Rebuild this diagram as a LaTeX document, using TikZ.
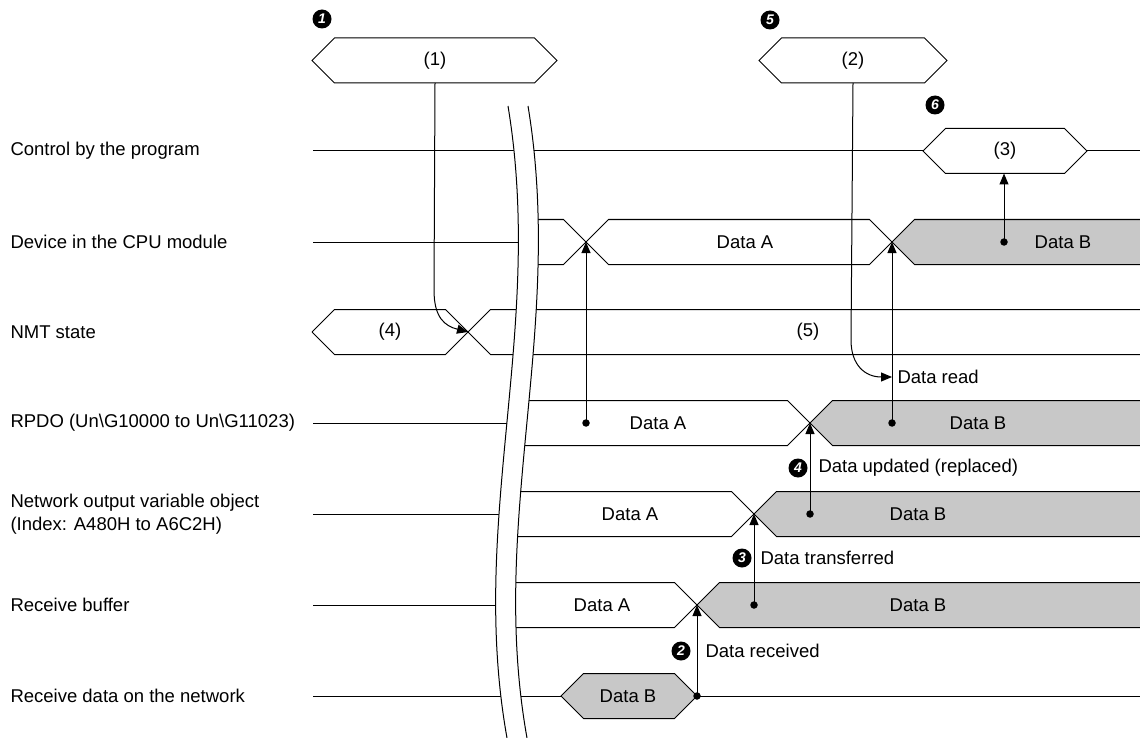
\documentclass[tikz,border=0pt]{standalone}
\usepackage{fontspec}
\setmainfont{Liberation Sans}
\usetikzlibrary{arrows.meta}
\definecolor{busgray}{RGB}{200,200,200}

% hexagon of a bus value: [style]{x left}{x right}{y}
\newcommand{\hexbus}[4][]{%
  \draw[#1] (#2,#4) -- ++(22.5,-22.5) -- ({#3-22.5},{#4-22.5}) -- (#3,#4)
    -- ({#3-22.5},{#4+22.5}) -- ({#2+22.5},{#4+22.5}) -- cycle;}

\begin{document}
\begin{tikzpicture}[
  x=1pt, y=-1pt, line width=1pt,
  font=\fontsize{18.5}{23}\selectfont,
  lbl/.style={anchor=west, align=left, inner sep=0pt},
  txt/.style={inner sep=0pt},
  stepnum/.style={circle, fill=black, text=white, inner sep=0pt, minimum size=19pt,
                  font=\fontsize{14}{14}\selectfont\bfseries\itshape},
  dot/.style={circle, fill=black, inner sep=0pt, minimum size=7.5pt},
  grey/.style={fill=busgray, draw},
  arr/.style={-{Triangle[length=11pt,width=9pt]}, line width=1pt}
]
\useasboundingbox (0,0) rectangle (1140,738);

% Row labels
\node[lbl] (lctrl) at (10,151) {Control by the program};
\node[lbl] (ldev)  at (10,242) {Device in the CPU module};
\node[lbl] (lnmt)  at (10,332) {NMT state};
\node[lbl] (lrpdo) at (10,423) {RPDO (Un\textbackslash G10000 to Un\textbackslash G11023)};
\node[lbl] (lnet)  at (10,514) {Network output variable object\\(Index: A480H to A6C2H)};
\node[lbl] (lbuf)  at (10,605) {Receive buffer};
\node[lbl] (lrecv) at (10,696) {Receive data on the network};

% Top events
\hexbus{312}{557}{60.5}
\node[txt] (one) at (435,60.5) {(1)};
\hexbus{759}{947}{60.5}
\node[txt] (two) at (853,60.5) {(2)};
\node[stepnum] (s1) at (322,19) {1};
\node[stepnum] (s5) at (770,20) {5};
\node[stepnum] (s6) at (935,105) {6};

% Control by the program
\draw (313,151) -- (923,151);
\hexbus{923}{1087}{151}
\draw (1087,151) -- (1140,151);
\node[txt] (three) at (1005,151) {(3)};

% Device in the CPU module
\draw (313,242) -- (530,242);
\draw (530,219.5) -- (563.5,219.5) -- (608.5,264.5) -- (869.5,264.5) -- (892,242);
\draw (530,264.5) -- (563.5,264.5) -- (608.5,219.5) -- (869.5,219.5) -- (892,242);
\fill[busgray] (892,242) -- (914.5,219.5) -- (1140,219.5) -- (1140,264.5) -- (914.5,264.5) -- cycle;
\draw (1140,219.5) -- (914.5,219.5) -- (892,242) -- (914.5,264.5) -- (1140,264.5);
\node[txt] (devA) at (745,242) {Data A};
\node[txt] (devB) at (1063,242) {Data B};

% NMT state
\draw (312,332) -- (334.5,309.5) -- (445.5,309.5) -- (490.5,354.5) -- (1140,354.5);
\draw (312,332) -- (334.5,354.5) -- (445.5,354.5) -- (490.5,309.5) -- (1140,309.5);
\node[txt] (four) at (390,332) {(4)};
\node[txt] (five) at (808,332) {(5)};

% RPDO
\draw (313,423) -- (520,423);
\draw (515,400.5) -- (787.5,400.5) -- (810,423) -- (787.5,445.5) -- (515,445.5);
\fill[busgray] (810,423) -- (832.5,400.5) -- (1140,400.5) -- (1140,445.5) -- (832.5,445.5) -- cycle;
\draw (1140,400.5) -- (832.5,400.5) -- (810,423) -- (832.5,445.5) -- (1140,445.5);
\node[txt] (rpdoA) at (658,423) {Data A};
\node[txt] (rpdoB) at (978,423) {Data B};

% Network output variable object
\draw (313,514) -- (510,514);
\draw (505,491.5) -- (731.5,491.5) -- (754,514) -- (731.5,536.5) -- (505,536.5);
\fill[busgray] (754,514) -- (776.5,491.5) -- (1140,491.5) -- (1140,536.5) -- (776.5,536.5) -- cycle;
\draw (1140,491.5) -- (776.5,491.5) -- (754,514) -- (776.5,536.5) -- (1140,536.5);
\node[txt] (netA) at (630,514) {Data A};
\node[txt] (netB) at (918,514) {Data B};

% Receive buffer
\draw (313,605) -- (510,605);
\draw (505,582.5) -- (674.5,582.5) -- (697,605) -- (674.5,627.5) -- (505,627.5);
\fill[busgray] (697,605) -- (719.5,582.5) -- (1140,582.5) -- (1140,627.5) -- (719.5,627.5) -- cycle;
\draw (1140,582.5) -- (719.5,582.5) -- (697,605) -- (719.5,627.5) -- (1140,627.5);
\node[txt] (bufA) at (602,605) {Data A};
\node[txt] (bufB) at (918,605) {Data B};

% Receive data on the network
\draw (313,696) -- (561,696);
\hexbus[grey]{561}{697}{696}
\draw (697,696) -- (1140,696);
\node[txt] (recvB) at (628,696) {Data B};

% Break
\fill[white] (508,106) .. controls (545,330) and (468,520) .. (507,738)
  -- (527,738) .. controls (488,520) and (565,330) .. (528,106) -- cycle;
\draw (508,106) .. controls (545,330) and (468,520) .. (507,738);
\draw (528,106) .. controls (565,330) and (488,520) .. (527,738);

% Crossing points
\coordinate (xnmt) at (468,332);
\coordinate (xdev1) at (586,242);
\coordinate (xdev2) at (892,242);
\coordinate (xrpdo) at (810,423);
\coordinate (xnet) at (754,514);
\coordinate (xbuf) at (697,605);
\coordinate (xread) at (892,377);

% Dots
\node[dot] (drpdoA) at (586,423) {};
\node[dot] (drpdoB) at (892,423) {};
\node[dot] (ddevB) at (1004,242) {};
\node[dot] (dnetB) at (810,514) {};
\node[dot] (dbufB) at (754,605) {};
\node[dot] (drecv) at (697,696) {};

% Arrows
\draw[arr] (one.center |- 0,83) -- (434,290) .. controls (434,318) and (445,326) .. (xnmt);
\draw[arr] (two.center |- 0,83) -- (851,340) .. controls (851,365) and (865,377) .. (xread);
\node[lbl] (read) at (897,377) {Data read};
\draw[arr] (ddevB.center) -- (1004,173.5);
\draw[arr] (drpdoA.center) -- (xdev1);
\draw[arr] (drpdoB.center) -- (xdev2);
\draw[arr] (dnetB.center) -- (xrpdo);
\draw[arr] (dbufB.center) -- (xnet);
\draw[arr] (drecv.center) -- (xbuf);

% Step labels
\node[stepnum] (s4) at (798,468) {4};
\node[lbl] (upd) at (818,468) {Data updated (replaced)};
\node[stepnum] (s3) at (742,558) {3};
\node[lbl] (trf) at (760,558) {Data transferred};
\node[stepnum] (s2) at (681,651) {2};
\node[lbl] (rcv) at (705,651) {Data received};
\end{tikzpicture}
\end{document}
